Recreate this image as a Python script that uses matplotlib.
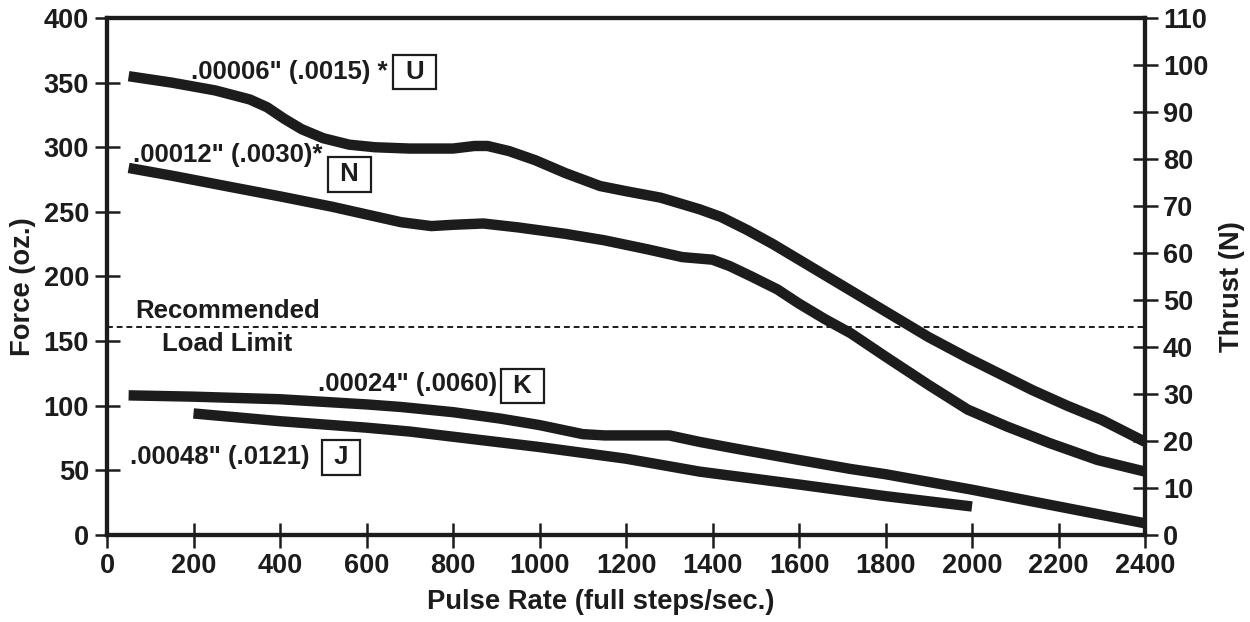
import numpy as np
import matplotlib
matplotlib.use("Agg")
import matplotlib.pyplot as plt

# force vs pulse rate, read per step-size curve (oz.)
u_rate = [50, 150, 250, 330, 370, 410, 450, 500, 560, 620, 700, 800, 850, 880, 930, 990, 1060, 1140,
          1200, 1280, 1370, 1420, 1480, 1540, 1600, 1700, 1800, 1900, 1990, 2080, 2140, 2220, 2300, 2400]
u_force = [355, 350, 344, 337, 331, 322, 314, 307, 302, 300, 299, 299, 301, 301, 297, 290, 280, 270,
           266, 261, 252, 246, 236, 225, 213, 193, 173, 153, 137, 122, 112, 100, 89, 72]

n_rate = [50, 150, 290, 400, 520, 600, 680, 750, 800, 870, 950, 1060, 1150, 1250, 1330, 1400, 1440,
          1490, 1550, 1600, 1660, 1720, 1800, 1900, 1990, 2080, 2180, 2290, 2400]
n_force = [284, 278, 269, 262, 254, 248, 242, 239, 240, 241, 238, 233, 228, 221, 215, 213, 208,
           200, 190, 179, 167, 156, 138, 116, 97, 84, 71, 58, 49]

k_rate = [50, 200, 400, 600, 680, 800, 910, 1000, 1100, 1150, 1300, 1370, 1450, 1600, 1720, 1800,
          2000, 2200, 2400]
k_force = [108, 107, 105, 101, 99, 95, 90, 85, 78, 77, 77, 72, 67, 58, 51, 47, 35, 22, 9]

j_rate = [200, 400, 600, 700, 800, 1000, 1200, 1370, 1600, 1800, 2000]
j_force = [94, 88, 83, 80, 76, 68, 59, 49, 39, 30, 22]

load_limit = 161

curve_labels = ['.00006" (.0015) *', '.00012" (.0030)*', '.00024" (.0060)', '.00048" (.0121)']
curve_codes = ['U', 'N', 'K', 'J']

plt.rcParams['font.family'] = ['Liberation Sans', 'DejaVu Sans']
plt.rcParams['font.weight'] = 'bold'
plt.rcParams['axes.labelweight'] = 'bold'
ink = '#1c1c1c'

fig = plt.figure(figsize=(12.5, 6.22), dpi=100)
ax = fig.add_axes([0.0856, 0.14, 0.8304, 0.831])

for xs, ys in [(u_rate, u_force), (n_rate, n_force), (k_rate, k_force), (j_rate, j_force)]:
    ax.plot(xs, ys, color=ink, lw=7.5, solid_capstyle='butt', solid_joinstyle='round')

ax.axhline(load_limit, color=ink, lw=1.4, ls=(0, (3, 2)))

ax.set_xlim(0, 2400)
ax.set_ylim(0, 400)
ax.set_xticks(np.arange(0, 2401, 200))
ax.set_yticks(np.arange(0, 401, 50))
for s in ax.spines.values():
    s.set_linewidth(3)
    s.set_color(ink)
ax.tick_params(direction='inout', length=18, width=1.8, labelsize=19.5, colors=ink, pad=4)

ax2 = ax.twinx()
ax2.set_ylim(0, 110)
ax2.set_yticks(np.arange(0, 111, 10))
ax2.tick_params(direction='inout', length=18, width=1.8, labelsize=19.5, colors=ink, pad=4)
for s in ax2.spines.values():
    s.set_linewidth(3)
    s.set_color(ink)

ax.set_xlabel('Pulse Rate (full steps/sec.)', fontsize=19.7, color=ink)
ax.set_ylabel('Force (oz.)', fontsize=19.7, color=ink)
ax2.set_ylabel('Thrust (N)', fontsize=19.7, color=ink)
ax.xaxis.set_label_coords(0.476, -0.105)
ax.yaxis.set_label_coords(-0.068, 0.48)
ax2.yaxis.set_label_coords(1.071, 0.48)

# step-size labels with their boxed codes
text_kw = dict(fontsize=18.5, color=ink, va='center')
box_kw = dict(fontsize=18.5, color=ink, va='center', ha='center',
              bbox=dict(boxstyle='square,pad=0.2', fc='white', ec=ink, lw=1.6))
label_pos = [(195, 358), (60, 294), (488, 117), (53, 60)]
code_pos = [(712, 358), (560, 279), (960, 115), (541, 60)]
for (lx, ly), (cx, cy), txt, code in zip(label_pos, code_pos, curve_labels, curve_codes):
    ax.text(lx, ly, txt, **text_kw)
    ax.text(cx, cy, ' ' + code + ' ', **box_kw)

ax.text(65, 173, 'Recommended', **text_kw)
ax.text(128, 148, 'Load Limit', **text_kw)

fig.savefig('out.png', dpi=100)
